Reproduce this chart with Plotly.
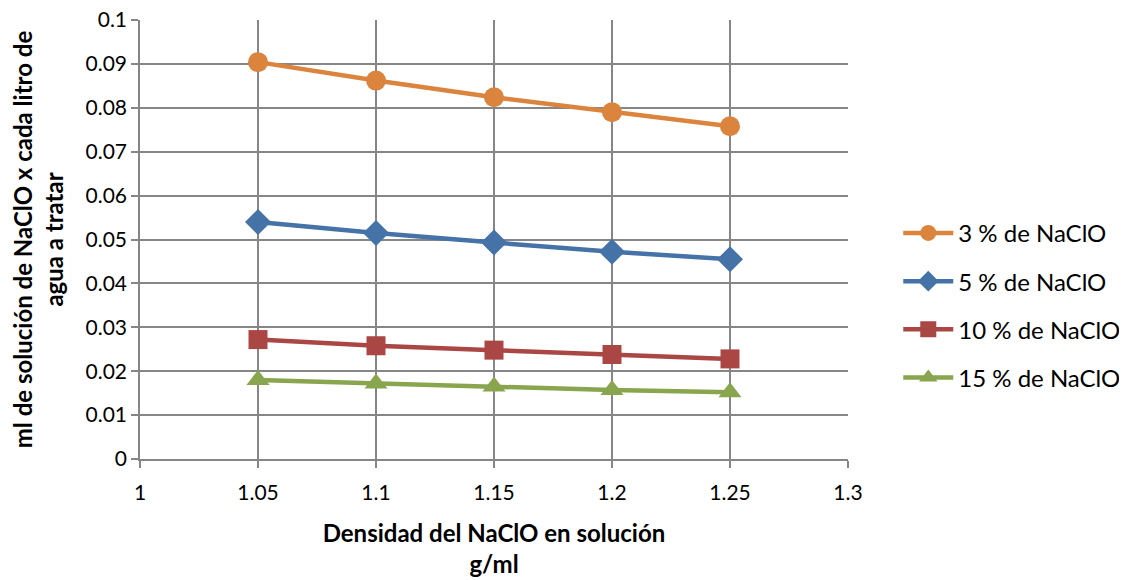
import plotly.graph_objects as go

densidad = [1.05, 1.1, 1.15, 1.2, 1.25]
serie_3 = [0.0904, 0.0862, 0.0824, 0.0790, 0.0758]
serie_5 = [0.0540, 0.0515, 0.0493, 0.0472, 0.0455]
serie_10 = [0.0272, 0.0258, 0.0248, 0.0238, 0.0228]
serie_15 = [0.0180, 0.0172, 0.0165, 0.0157, 0.0152]
nombres = ["3 % de NaClO", "5 % de NaClO", "10 % de NaClO", "15 % de NaClO"]

colores = ["#DB843D", "#4572A7", "#AA4643", "#89A54E"]
simbolos = ["circle", "diamond", "square", "triangle-up"]
tamanos = [20, 20, 19, 20]

FONT = "Lato, Calibri, Arial, sans-serif"

fig = go.Figure()
for i, (y, n, c, s, t) in enumerate(zip([serie_3, serie_5, serie_10, serie_15], nombres, colores, simbolos, tamanos)):
    fig.add_trace(go.Scatter(
        x=densidad, y=y, name=n, mode="lines+markers", legendgroup=f"g{i}",
        line=dict(color=c, width=4.5),
        marker=dict(symbol=s, size=t, color=c, line=dict(width=0)),
    ))

fig.update_layout(
    width=1127, height=580,
    margin=dict(l=132, r=287, t=12, b=129, autoexpand=False),
    paper_bgcolor="white", plot_bgcolor="white",
    font=dict(family=FONT, size=21, color="black"),
    legend=dict(x=1.071, xanchor="left", xref="paper", y=0.35, yanchor="middle",
                font=dict(size=24), tracegroupgap=14, itemwidth=50,
                bgcolor="rgba(0,0,0,0)"),
    showlegend=True,
)
fig.update_xaxes(
    range=[1, 1.3], dtick=0.05, tick0=1, automargin=False,
    showgrid=True, gridcolor="#868686", gridwidth=1.5,
    showline=True, linecolor="#868686", linewidth=1.5,
    ticks="outside", ticklen=7, tickcolor="#868686", tickwidth=1.5,
    tickfont=dict(size=21), zeroline=False, ticklabelstandoff=7,
    ticklabeloverflow="allow",
    title=dict(text="<b>Densidad del NaClO en solución<br>g/ml</b>", font=dict(size=24), standoff=22),
)
fig.update_yaxes(
    range=[0, 0.1], dtick=0.01, tick0=0, automargin=False,
    showgrid=True, gridcolor="#868686", gridwidth=1.5,
    showline=True, linecolor="#868686", linewidth=1.5, mirror=False,
    ticks="outside", ticklen=7, tickcolor="#868686", tickwidth=1.5,
    tickfont=dict(size=21), zeroline=False, ticklabeloverflow="allow",
    title=dict(text="<b>ml de solución de NaClO x cada litro de<br>agua a tratar</b>", font=dict(size=24), standoff=27),
)

fig.write_html("out.html")
